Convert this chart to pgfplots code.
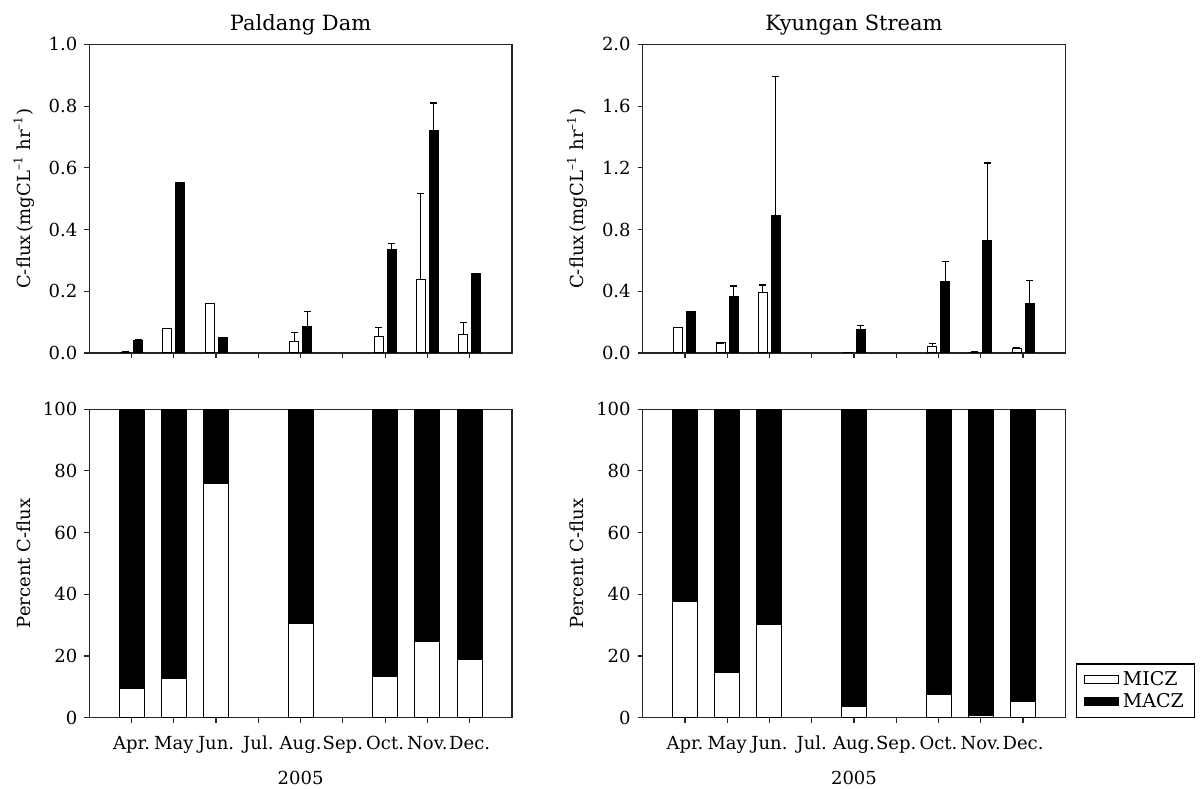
\documentclass[border=0pt]{standalone}
\usepackage{fontspec}
\setmainfont{DejaVu Serif}
\usepackage{pgfplots}
\usepackage{pgfplotstable}
\pgfplotsset{compat=1.18}

% C-flux, mgC/L/hr: x = month index (Apr=1 ... Dec=9), mi/ma = MICZ/MACZ, *e = upper error
\pgfplotstableread{
x  mi     mie    ma     mae
1  0.003  0      0.039  0.005
2  0.080  0      0.553  0
3  0.161  0      0.050  0
5  0.037  0.029  0.087  0.047
7  0.052  0.030  0.336  0.020
8  0.239  0.279  0.720  0.090
9  0.059  0.039  0.257  0
}\paldangflux
\pgfplotstableread{
x  mi     mie    ma     mae
1  0.165  0      0.270  0
2  0.065  0      0.367  0.067
3  0.391  0.050  0.892  0.901
5  0.005  0      0.152  0.026
7  0.043  0.018  0.465  0.127
8  0.006  0      0.726  0.505
9  0.028  0.005  0.320  0.151
}\kyunganflux
% percent of C-flux
\pgfplotstableread{
x  mi    ma
1  9.5   90.5
2  12.6  87.4
3  76.0  24.0
5  30.4  69.6
7  13.4  86.6
8  24.7  75.3
9  18.7  81.3
}\paldangpct
\pgfplotstableread{
x  mi    ma
1  37.6  62.4
2  14.8  85.2
3  30.3  69.7
5  3.6   96.4
7  7.6   92.4
8  0.8   99.2
9  5.4   94.6
}\kyunganpct

\pgfplotsset{
  panel/.style={
    anchor=south west, scale only axis,
    width=211.3pt, height=154.3pt,
    xmin=0, xmax=10, xtick={1,...,9}, ymin=0,
    tick align=outside, tick pos=left, major tick length=2.5pt,
    axis line style={line width=0.6pt, black!85},
    every tick/.style={line width=0.6pt, black!85},
    tick label style={font=\fontsize{9}{10}\selectfont},
    label style={font=\fontsize{9}{10}\selectfont},
    /pgf/number format/assume math mode=true,
    title style={font=\fontsize{10.5}{12}\selectfont,
      at={(axis description cs:0.5,1)}, anchor=base, yshift=1pt},
    ylabel style={at={(axis description cs:-0.155,0.5)}, anchor=center},
  },
  fluxpanel/.style={panel,
    ybar=2pt, bar width=4.5pt,
    xticklabels={},
    yticklabel style={/pgf/number format/.cd, fixed, fixed zerofill, precision=1},
    ylabel={C-flux\,(mgCL\textsuperscript{--1} hr\textsuperscript{--1})},
  },
  pctpanel/.style={panel,
    ybar stacked, bar width=12.5pt,
    ymax=100, ytick={0,20,40,60,80,100},
    xticklabels={Apr.,May,Jun.,Jul.,Aug.,Sep.,Oct.,Nov.,Dec.},
    xticklabel style={anchor=base, yshift=-13.5pt},
    xlabel={2005},
    xlabel style={at={(axis description cs:0.5,0)}, anchor=base, yshift=-33.5pt},
    ylabel={Percent C-flux},
  },
  micz/.style={fill=white, draw=black, line width=0.5pt},
  macz/.style={fill=black, draw=black, line width=0.5pt},
  errs/.style={error bars/.cd, y dir=plus, y explicit,
    error bar style={line width=0.5pt, black},
    error mark options={rotate=90, line width=0.6pt, mark size=1.75pt, black}},
}

\begin{document}
\begin{tikzpicture}
\path[use as bounding box] (0,0) rectangle (600pt,394pt);

\begin{axis}[fluxpanel, at={(44.65pt,217.5pt)},
  ymax=1.0, ytick={0,0.2,0.4,0.6,0.8,1.0}, title={Paldang Dam}]
\addplot[micz, errs] table[x=x, y=mi, y error=mie] {\paldangflux};
\addplot[macz, errs] table[x=x, y=ma, y error=mae] {\paldangflux};
\end{axis}

\begin{axis}[fluxpanel, at={(321.35pt,217.5pt)},
  ymax=2.0, ytick={0,0.4,0.8,1.2,1.6,2.0}, title={Kyungan Stream}]
\addplot[micz, errs] table[x=x, y=mi, y error=mie] {\kyunganflux};
\addplot[macz, errs] table[x=x, y=ma, y error=mae] {\kyunganflux};
\end{axis}

\begin{axis}[pctpanel, at={(44.65pt,35.15pt)}]
\addplot[micz] table[x=x, y=mi] {\paldangpct};
\addplot[macz] table[x=x, y=ma] {\paldangpct};
\end{axis}

\begin{axis}[pctpanel, at={(321.35pt,35.15pt)},
  legend style={at={(1.026,0)}, anchor=south west, draw=black, line width=0.6pt,
    font=\fontsize{9.5}{10}\selectfont, inner xsep=3.5pt, inner ysep=1.5pt,
    row sep=-1.5pt, cells={anchor=west}},
  legend image code/.code={\draw[#1] (0pt,-2.2pt) rectangle (17pt,2.2pt);}]
\addplot[micz] table[x=x, y=mi] {\kyunganpct};
\addplot[macz] table[x=x, y=ma] {\kyunganpct};
\legend{MICZ, MACZ}
\end{axis}
\end{tikzpicture}
\end{document}
